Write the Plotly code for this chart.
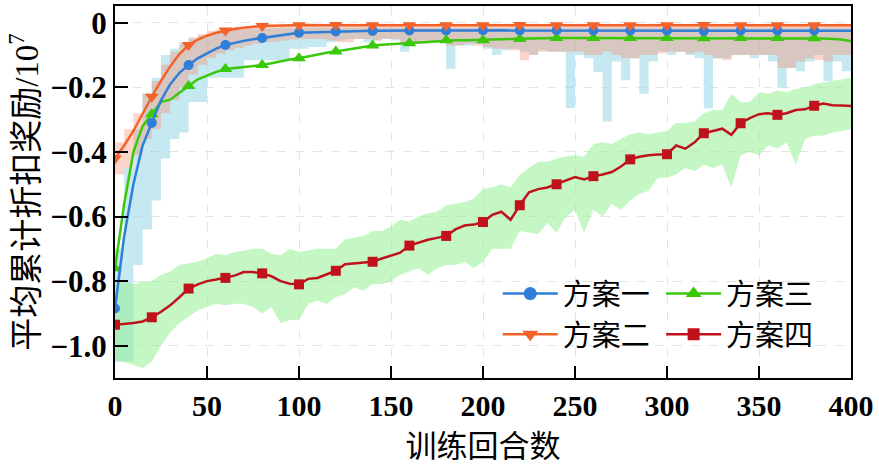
import plotly.graph_objects as go

# episodes (every 5)
X = list(range(0, 401, 5))

# 方案一 mean
s1 = [-0.885, -0.66, -0.50, -0.38, -0.31, -0.24, -0.19, -0.155, -0.131, -0.11,
      -0.095, -0.08, -0.069, -0.062, -0.056, -0.051, -0.047, -0.042, -0.038, -0.034,
      -0.031, -0.030, -0.029, -0.028, -0.027, -0.026, -0.026, -0.025, -0.025, -0.025,
      -0.024, -0.025, -0.024, -0.024, -0.025, -0.024, -0.024, -0.023, -0.024, -0.024,
      -0.023, -0.024, -0.023, -0.024, -0.024, -0.023, -0.024, -0.024, -0.023, -0.024,
      -0.024, -0.023, -0.024, -0.024, -0.023, -0.024, -0.024, -0.025, -0.024, -0.024,
      -0.024, -0.023, -0.024, -0.024, -0.025, -0.024, -0.023, -0.024, -0.024, -0.024,
      -0.024, -0.025, -0.024, -0.024, -0.023, -0.024, -0.024, -0.025, -0.024, -0.024,
      -0.025]
s1_lo = [-1.05, -1.05, -0.75, -0.64, -0.55, -0.42, -0.36, -0.34, -0.245, -0.245,
         -0.17, -0.17, -0.17, -0.17, -0.116, -0.116, -0.116, -0.116, -0.116, -0.08,
         -0.08, -0.075, -0.075, -0.06, -0.055, -0.05, -0.05, -0.06, -0.055, -0.05,
         -0.055, -0.09, -0.06, -0.055, -0.06, -0.06, -0.143, -0.07, -0.07, -0.065,
         -0.08, -0.10, -0.085, -0.08, -0.09, -0.10, -0.085, -0.09, -0.09, -0.265,
         -0.10, -0.11, -0.152, -0.306, -0.12, -0.178, -0.11, -0.22, -0.12, -0.09,
         -0.10, -0.09, -0.10, -0.11, -0.265, -0.11, -0.11, -0.10, -0.10, -0.11,
         -0.10, -0.12, -0.20, -0.14, -0.15, -0.12, -0.10, -0.18, -0.12, -0.15,
         -0.15]
s1_hi = [-0.70, -0.45, -0.33, -0.22, -0.17, -0.10, -0.08, -0.06, -0.05, -0.04,
         -0.035, -0.03, -0.025, -0.022, -0.02, -0.019, -0.018, -0.017, -0.016, -0.016] + [-0.015] * 61

# 方案二 mean
s2 = [-0.42, -0.38, -0.335, -0.28, -0.229, -0.18, -0.135, -0.097, -0.069, -0.052,
      -0.04, -0.031, -0.024, -0.019, -0.015, -0.012, -0.010, -0.009, -0.008, -0.008,
      -0.008, -0.007, -0.008, -0.008, -0.007, -0.008, -0.008, -0.007, -0.008, -0.008,
      -0.008, -0.007, -0.008, -0.008, -0.007, -0.008, -0.008, -0.007, -0.008, -0.008,
      -0.008, -0.007, -0.008, -0.008, -0.007, -0.008, -0.008, -0.007, -0.008, -0.008,
      -0.008, -0.007, -0.008, -0.008, -0.007, -0.008, -0.008, -0.007, -0.008, -0.008,
      -0.008, -0.007, -0.008, -0.008, -0.007, -0.008, -0.008, -0.007, -0.008, -0.008,
      -0.008, -0.007, -0.008, -0.008, -0.007, -0.008, -0.008, -0.007, -0.008, -0.008,
      -0.008]
s2_lo = [-0.47, -0.45, -0.41, -0.36, -0.33, -0.28, -0.24, -0.20, -0.16, -0.13,
         -0.11, -0.095, -0.085, -0.078, -0.07, -0.065, -0.06, -0.058, -0.055, -0.052,
         -0.05, -0.05, -0.05, -0.055, -0.06, -0.06, -0.05, -0.05, -0.055, -0.05,
         -0.05, -0.06, -0.06, -0.065, -0.06, -0.06, -0.07, -0.07, -0.065, -0.07,
         -0.075, -0.08, -0.08, -0.085, -0.116, -0.10, -0.09, -0.09, -0.09, -0.09,
         -0.09, -0.10, -0.10, -0.09, -0.10, -0.11, -0.11, -0.10, -0.10, -0.095,
         -0.09, -0.09, -0.095, -0.09, -0.10, -0.11, -0.115, -0.10, -0.10, -0.10,
         -0.10, -0.10, -0.14, -0.14, -0.12, -0.11, -0.115, -0.12, -0.10, -0.10,
         -0.10]
s2_hi = [-0.37, -0.33, -0.28, -0.22, -0.18, -0.13, -0.09, -0.065, -0.045, -0.035,
         -0.025, -0.02, -0.015, -0.012, -0.01, -0.008, -0.006, -0.005, -0.004, -0.004] + [-0.003] * 61

# 方案三 mean
s3 = [-0.76, -0.56, -0.40, -0.32, -0.283, -0.245, -0.238, -0.218, -0.196, -0.175,
      -0.163, -0.152, -0.143, -0.14, -0.137, -0.133, -0.131, -0.125, -0.119, -0.114,
      -0.110, -0.104, -0.098, -0.093, -0.089, -0.084, -0.079, -0.074, -0.070, -0.068,
      -0.066, -0.064, -0.063, -0.060, -0.058, -0.056, -0.054, -0.054, -0.054, -0.054,
      -0.054, -0.052, -0.051, -0.050, -0.050, -0.049, -0.048, -0.047, -0.047, -0.047,
      -0.047, -0.048, -0.047, -0.047, -0.048, -0.047, -0.047, -0.048, -0.047, -0.047,
      -0.047, -0.048, -0.047, -0.047, -0.048, -0.047, -0.047, -0.048, -0.047, -0.047,
      -0.047, -0.048, -0.047, -0.047, -0.048, -0.047, -0.048, -0.049, -0.050, -0.052,
      -0.057]

# 方案四 mean
s4 = [-0.935, -0.933, -0.93, -0.925, -0.912, -0.895, -0.875, -0.85, -0.823, -0.81,
      -0.80, -0.795, -0.79, -0.783, -0.772, -0.772, -0.776, -0.785, -0.80, -0.808,
      -0.81, -0.793, -0.79, -0.78, -0.768, -0.748, -0.745, -0.743, -0.74, -0.73,
      -0.72, -0.712, -0.69, -0.68, -0.672, -0.666, -0.66, -0.64, -0.628, -0.625,
      -0.617, -0.595, -0.585, -0.61, -0.565, -0.525, -0.515, -0.51, -0.50, -0.49,
      -0.478, -0.485, -0.475, -0.47, -0.462, -0.445, -0.423, -0.415, -0.41, -0.408,
      -0.407, -0.38, -0.39, -0.37, -0.342, -0.335, -0.328, -0.347, -0.311, -0.295,
      -0.283, -0.28, -0.285, -0.28, -0.27, -0.268, -0.257, -0.25, -0.255, -0.256,
      -0.258]
s4_lo = [-1.045, -1.05, -1.06, -1.07, -1.05, -1.00, -0.96, -0.93, -0.91, -0.89,
         -0.88, -0.87, -0.875, -0.87, -0.87, -0.88, -0.90, -0.88, -0.93, -0.92,
         -0.92, -0.87, -0.86, -0.87, -0.85, -0.84, -0.82, -0.83, -0.81, -0.81,
         -0.80, -0.78, -0.77, -0.76, -0.78, -0.76, -0.75, -0.75, -0.74, -0.76,
         -0.74, -0.70, -0.70, -0.70, -0.645, -0.65, -0.655, -0.62, -0.65, -0.60,
         -0.58, -0.65, -0.58, -0.60, -0.56, -0.58, -0.55, -0.53, -0.52, -0.48,
         -0.48, -0.47, -0.45, -0.46, -0.44, -0.45, -0.44, -0.51, -0.41, -0.40,
         -0.41, -0.38, -0.39, -0.37, -0.44, -0.36, -0.35, -0.35, -0.34, -0.335,
         -0.33]
s4_hi = [-0.81, -0.80, -0.81, -0.80, -0.80, -0.78, -0.77, -0.75, -0.745, -0.74,
         -0.73, -0.715, -0.72, -0.71, -0.705, -0.70, -0.70, -0.715, -0.72, -0.70,
         -0.71, -0.705, -0.70, -0.70, -0.70, -0.67, -0.665, -0.66, -0.645, -0.645,
         -0.63, -0.61, -0.615, -0.60, -0.59, -0.585, -0.565, -0.56, -0.555, -0.545,
         -0.515, -0.51, -0.50, -0.51, -0.47, -0.45, -0.43, -0.43, -0.42, -0.414,
         -0.41, -0.415, -0.375, -0.37, -0.375, -0.36, -0.345, -0.34, -0.345, -0.34,
         -0.335, -0.31, -0.31, -0.305, -0.28, -0.27, -0.27, -0.22, -0.245, -0.245,
         -0.215, -0.22, -0.21, -0.215, -0.205, -0.20, -0.19, -0.185, -0.18, -0.175,
         -0.17]

names = ["方案一", "方案二", "方案三", "方案四"]
x_ticks = [0, 50, 100, 150, 200, 250, 300, 350, 400]
y_ticks = [0, -0.2, -0.4, -0.6, -0.8, -1.0]
y_ticktext = ["0", "\u22120.2", "\u22120.4", "\u22120.6", "\u22120.8", "\u22121.0"]

BLUE, ORANGE, GREEN, RED = "#2f7ed8", "#f2622a", "#3ac80a", "#c0121c"

fig = go.Figure()


def band(lo, hi, color, shape):
    fig.add_trace(go.Scatter(x=X, y=lo, mode="lines", line=dict(width=0, shape=shape),
                             showlegend=False, hoverinfo="skip"))
    fig.add_trace(go.Scatter(x=X, y=hi, mode="lines", line=dict(width=0, shape=shape),
                             fill="tonexty", fillcolor=color, showlegend=False, hoverinfo="skip"))


band(s1_lo, s1_hi, "rgba(140,210,228,0.5)", "hv")
band(s2_lo, s2_hi, "rgba(245,150,120,0.4)", "hv")
band(s4_lo, s4_hi, "rgba(150,240,150,0.55)", "linear")

series = [
    (s4, RED, "square", 10),
    (s3, GREEN, "triangle-up", 12),
    (s1, BLUE, "circle", 10),
    (s2, ORANGE, "triangle-down", 12),
]
for ys, col, sym, sz in series:
    fig.add_trace(go.Scatter(x=X, y=ys, mode="lines", line=dict(color=col, width=2.5),
                             showlegend=False, hoverinfo="skip"))
    fig.add_trace(go.Scatter(x=X[::4][:-1], y=ys[::4][:-1], mode="markers",
                             marker=dict(color=col, symbol=sym, size=sz, line=dict(width=0)),
                             showlegend=False, hoverinfo="skip"))

leg_items = [
    (names[0], BLUE, "circle", 13, "legend"),
    (names[1], ORANGE, "triangle-down", 14, "legend"),
    (names[2], GREEN, "triangle-up", 14, "legend2"),
    (names[3], RED, "square", 12, "legend2"),
]
for nm, col, sym, sz, lg in leg_items:
    fig.add_trace(go.Scatter(x=[None], y=[None], name=nm, mode="lines+markers",
                             line=dict(color=col, width=2.5),
                             marker=dict(color=col, symbol=sym, size=sz, line=dict(width=0)),
                             legend=lg))

legfont = dict(family="Noto Sans CJK SC", size=29, color="black")
fig.update_layout(
    width=879, height=466,
    margin=dict(l=115, r=28, t=4, b=88),
    plot_bgcolor="white", paper_bgcolor="white",
    legend=dict(x=0.52, y=0.295, xanchor="left", yanchor="top", font=legfont, traceorder="normal",
                bgcolor="rgba(0,0,0,0)", itemwidth=55, tracegroupgap=0),
    legend2=dict(x=0.742, y=0.295, xanchor="left", yanchor="top", font=legfont, traceorder="normal",
                 bgcolor="rgba(0,0,0,0)", itemwidth=55, tracegroupgap=0),
    xaxis=dict(range=[0, 400], tickvals=x_ticks, ticks="inside", ticklen=12, tickwidth=2,
               tickcolor="black", showline=True, linecolor="black", linewidth=2, mirror=True,
               showgrid=True, gridcolor="#e4e4e4", griddash="dash", gridwidth=1, zeroline=False,
               tickfont=dict(family="Liberation Serif", size=30, color="black", weight="bold"),
               title=dict(text="训练回合数", standoff=15,
                          font=dict(family="Noto Sans CJK SC", size=31, color="black"))),
    yaxis=dict(range=[-1.10, 0.052], tickvals=y_ticks, ticktext=y_ticktext, ticks="inside",
               ticklen=13, tickwidth=2, tickcolor="black", showline=True, linecolor="black",
               linewidth=2, mirror=True, showgrid=True, gridcolor="#e4e4e4", griddash="dash",
               gridwidth=1, zeroline=False,
               tickfont=dict(family="Liberation Serif", size=31, color="black", weight="bold"),
               title=dict(text="平均累计折扣奖励/10<sup>7</sup>", standoff=2,
                          font=dict(family="Liberation Serif, Noto Sans CJK SC", size=33, color="black"))),
)

fig.write_html("out.html", config={"displayModeBar": False},
               post_script="document.body.style.margin='0';")
